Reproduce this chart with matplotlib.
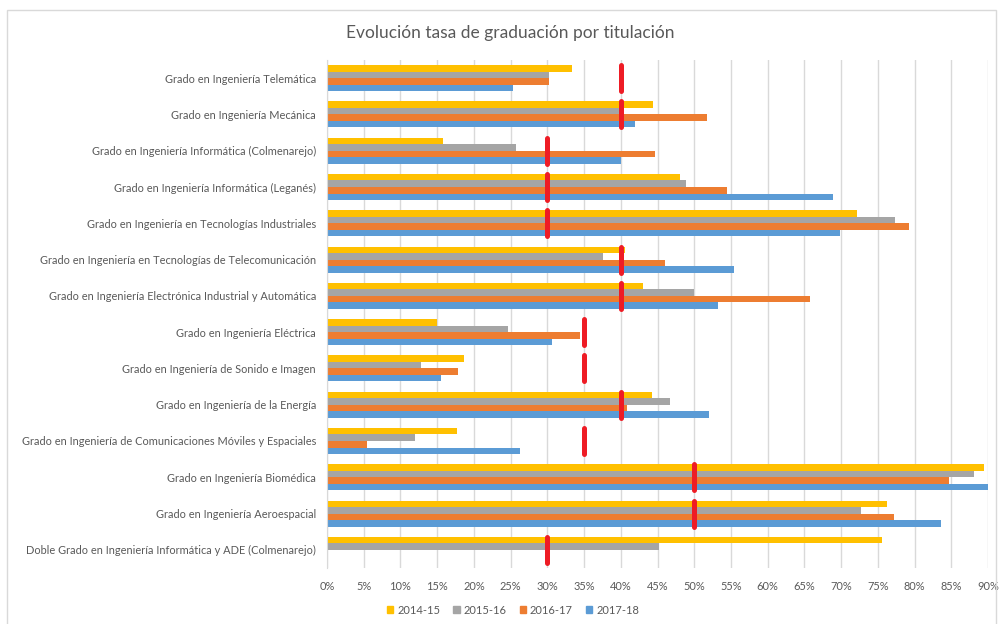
import numpy as np
import matplotlib
matplotlib.use("Agg")
import matplotlib.pyplot as plt
from matplotlib.patches import Patch, Rectangle
from matplotlib.ticker import PercentFormatter

plt.rcParams['font.family'] = ['Lato', 'DejaVu Sans']

# titulaciones (de arriba a abajo)
titulaciones = [
    "Grado en Ingeniería Telemática",
    "Grado en Ingeniería Mecánica",
    "Grado en Ingeniería Informática (Colmenarejo)",
    "Grado en Ingeniería Informática (Leganés)",
    "Grado en Ingeniería en Tecnologías Industriales",
    "Grado en Ingeniería en Tecnologías de Telecomunicación",
    "Grado en Ingeniería Electrónica Industrial y Automática",
    "Grado en Ingeniería Eléctrica",
    "Grado en Ingeniería de Sonido e Imagen",
    "Grado en Ingeniería de la Energía",
    "Grado en Ingeniería de Comunicaciones Móviles y Espaciales",
    "Grado en Ingeniería Biomédica",
    "Grado en Ingeniería Aeroespacial",
    "Doble Grado en Ingeniería Informática y ADE (Colmenarejo)",
]

cursos = ["2014-15", "2015-16", "2016-17", "2017-18"]

tasa_2014_15 = [33.4, 44.4, 15.8, 48.1, 72.2, 40.6, 43.0, 15.0, 18.7, 44.3, 17.7, 89.4, 76.3, 75.6]
tasa_2015_16 = [30.2, 39.7, 25.7, 48.9, 77.4, 37.6, 50.0, 24.7, 12.8, 46.7, 12.0, 88.1, 72.7, 45.2]
tasa_2016_17 = [30.2, 51.7, 44.7, 54.4, 79.2, 46.0, 65.7, 34.5, 17.9, 40.8, 5.4, 84.7, 77.2, np.nan]
tasa_2017_18 = [25.3, 42.0, 40.0, 68.9, 69.9, 55.4, 53.2, 30.7, 15.5, 52.0, 26.3, 90.0, 83.6, np.nan]

objetivo = [40, 40, 30, 30, 30, 40, 40, 35, 35, 40, 35, 50, 50, 30]

colores = ['#FFC000', '#A5A5A5', '#ED7D31', '#5B9BD5']
gris = '#595959'

fig = plt.figure(figsize=(10.02, 6.24), dpi=100)
ax = fig.add_axes([327 / 1002, 1 - 568 / 624, 661 / 1002, 508 / 624])

y = np.arange(len(titulaciones))
h = 0.18
series = [tasa_2014_15, tasa_2015_16, tasa_2016_17, tasa_2017_18]
for j, (vals, c) in enumerate(zip(series, colores)):
    ax.barh(y + (j - 1.5) * h, np.array(vals) / 100, height=h, color=c, zorder=2)

# objetivo (marca roja)
lc = ax.vlines(np.array(objetivo) / 100, y - 0.36, y + 0.36, color='#EE1C25', linewidth=3.6, zorder=3)
lc.set_capstyle('round')

ax.set_xlim(0, 0.9)
ax.set_ylim(len(titulaciones) - 0.5, -0.5)
ax.set_xticks(np.arange(0, 0.91, 0.05))
ax.xaxis.set_major_formatter(PercentFormatter(1.0, decimals=0))
ax.set_yticks(y)
ax.set_yticklabels(titulaciones)
ax.tick_params(axis='both', length=0, colors=gris, labelsize=7.9)
ax.tick_params(axis='y', pad=8)
ax.tick_params(axis='x', pad=9)
ax.grid(axis='x', color='#D9D9D9', linewidth=1, zorder=0)
for s in ['top', 'right', 'bottom']:
    ax.spines[s].set_visible(False)
ax.spines['left'].set_color('#D9D9D9')

fig.text(0.509, 1 - 33 / 624, "Evolución tasa de graduación por titulación",
         ha='center', va='center', fontsize=12.5, color=gris)

handles = [Patch(color=c, label=l) for c, l in zip(colores, cursos)]
fig.legend(handles=handles, loc='center', bbox_to_anchor=(0.512, 1 - 610 / 624), ncol=4,
           frameon=False, fontsize=8, labelcolor=gris, handlelength=0.55, handleheight=0.55,
           handletextpad=0.35, columnspacing=1.2)

fig.patches.append(Rectangle((7 / 1002, -0.1), 989 / 1002, 1.1 - 10 / 624, transform=fig.transFigure,
                             fill=False, edgecolor='#D9D9D9', linewidth=1))

fig.savefig('out.png', dpi=100)
